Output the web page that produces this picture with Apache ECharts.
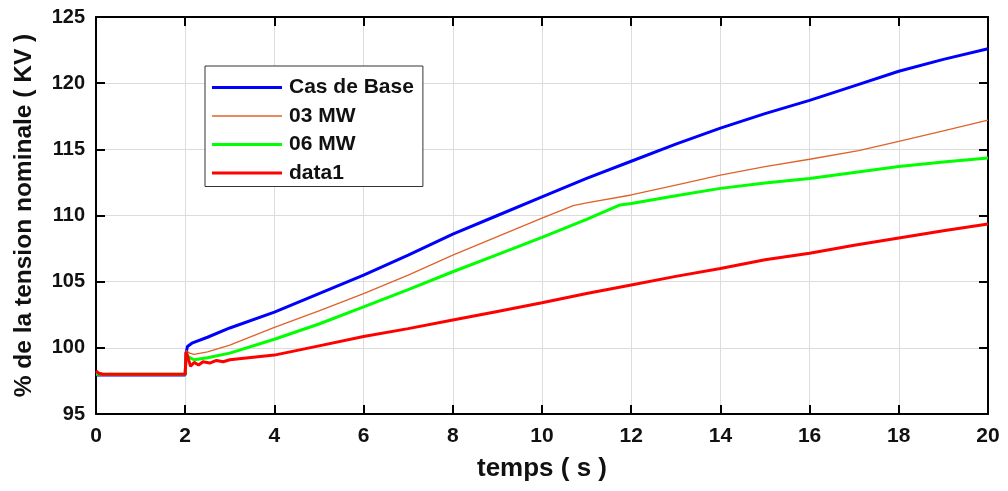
<!DOCTYPE html>
<html>
<head>
<meta charset="utf-8">
<script src="https://cdn.jsdelivr.net/npm/echarts@6/dist/echarts.min.js"></script>
<style>html,body{margin:0;padding:0;background:#fff}#c{width:1008px;height:491px}</style>
</head>
<body>
<div id="c"></div>
<script>
// ---- data ----
var seriesNames = ['Cas de Base', '03 MW', '06 MW', 'data1'];
var xTicks = [0, 2, 4, 6, 8, 10, 12, 14, 16, 18, 20];
var yTicks = [95, 100, 105, 110, 115, 120, 125];

var tBase = [0, 2, 2.02, 2.05, 2.15, 2.5, 3, 4, 5, 6, 7, 8, 9, 10, 11, 12, 13, 14, 15, 16, 17, 18, 19, 20];
var vBase = [97.95, 97.95, 99.6, 100.1, 100.35, 100.8, 101.5, 102.7, 104.1, 105.5, 107.0, 108.6, 110.0, 111.4, 112.8, 114.1, 115.4, 116.6, 117.7, 118.7, 119.8, 120.9, 121.8, 122.6];

var t03 = [0, 2, 2.02, 2.1, 2.2, 2.5, 3, 4, 5, 6, 7, 8, 9, 10, 10.7, 11, 12, 13, 14, 15, 16, 17.1, 18, 19, 20];
var v03 = [98.0, 98.0, 99.8, 99.6, 99.5, 99.7, 100.2, 101.55, 102.8, 104.1, 105.5, 107.0, 108.4, 109.8, 110.75, 110.95, 111.55, 112.3, 113.05, 113.7, 114.25, 114.9, 115.6, 116.4, 117.2];

var t06 = [0, 2, 2.02, 2.08, 2.2, 2.5, 3, 4, 5, 6, 7, 8, 9, 10, 11, 11.75, 12, 13, 14, 15, 16, 17, 18, 19, 20];
var v06 = [98.0, 98.0, 99.6, 99.3, 99.1, 99.25, 99.6, 100.65, 101.8, 103.1, 104.4, 105.75, 107.05, 108.35, 109.7, 110.8, 110.9, 111.5, 112.05, 112.45, 112.8, 113.25, 113.7, 114.05, 114.35];

var tData1 = [0, 0.05, 0.15, 2, 2.02, 2.06, 2.12, 2.2, 2.3, 2.4, 2.55, 2.7, 2.85, 3, 4, 5, 6, 7, 8, 9, 10, 11, 12, 13, 14, 15, 16, 17, 18, 19, 20];
var vData1 = [98.25, 98.1, 98.0, 98.0, 99.7, 99.3, 98.6, 98.9, 98.7, 98.95, 98.85, 99.05, 98.95, 99.1, 99.45, 100.15, 100.85, 101.45, 102.1, 102.75, 103.4, 104.1, 104.75, 105.4, 106.0, 106.65, 107.15, 107.75, 108.3, 108.85, 109.35];

var colors = ['#0000ff', '#e0622a', '#00ff00', '#ff0000'];
var widths = [3, 1.3, 3, 3];

function pairs(t, v) { return t.map(function (x, i) { return [x, v[i]]; }); }
var allData = [pairs(tBase, vBase), pairs(t03, v03), pairs(t06, v06), pairs(tData1, vData1)];

var chart = echarts.init(document.getElementById('c'));
var F = '"Liberation Sans", Arial, sans-serif';
var FN = '"Liberation Sans Narrow", "Liberation Sans", Arial, sans-serif';

function legendIcon(w) { return 'path://M0 0H70V' + w + 'H0Z'; }

var option = {
  animation: false,
  backgroundColor: '#fff',
  grid: { left: 96, right: 20, top: 17, bottom: 77, containLabel: false },
  legend: {
    orient: 'vertical',
    left: 205, top: 66,
    data: seriesNames.map(function (n, i) {
      return { name: n, icon: legendIcon(widths[i]), itemStyle: { color: colors[i] } };
    }),
    itemWidth: 70, itemHeight: 14, itemGap: 7.5,
    symbolKeepAspect: true,
    padding: [11, 9, 3, 7],
    backgroundColor: '#fff',
    borderColor: '#333', borderWidth: 1, borderRadius: 0,
    textStyle: { fontFamily: F, fontWeight: 'bold', fontSize: 21, color: '#111', padding: [0, 0, 0, 2] }
  },
  xAxis: [{
    type: 'value', min: 0, max: 20, interval: 2,
    axisLine: { show: true, onZero: false, lineStyle: { color: '#000', width: 2 } },
    axisTick: { show: true, inside: true, length: 9, lineStyle: { color: '#000', width: 2 } },
    axisLabel: { fontFamily: FN, fontWeight: 'bold', fontSize: 21, color: '#111', margin: 12 },
    splitLine: { show: true, lineStyle: { color: '#dcdcdc', width: 1 } },
    name: 'temps ( s )', nameLocation: 'middle', nameGap: 42,
    nameTextStyle: { fontFamily: F, fontWeight: 'bold', fontSize: 26, color: '#111' }
  }, {
    type: 'value', min: 0, max: 20, interval: 2, position: 'top',
    axisLine: { show: true, onZero: false, lineStyle: { color: '#000', width: 2 } },
    axisTick: { show: true, inside: true, length: 9, lineStyle: { color: '#000', width: 2 } },
    axisLabel: { show: false }, splitLine: { show: false }
  }],
  yAxis: [{
    type: 'value', min: 95, max: 125, interval: 5,
    axisLine: { show: true, onZero: false, lineStyle: { color: '#000', width: 2 } },
    axisTick: { show: true, inside: true, length: 9, lineStyle: { color: '#000', width: 2 } },
    axisLabel: { fontFamily: F, fontWeight: 'bold', fontSize: 20, color: '#111', margin: 11 },
    splitLine: { show: true, lineStyle: { color: '#dcdcdc', width: 1 } },
    name: '% de la tension nominale ( KV )', nameLocation: 'middle', nameGap: 59, nameRotate: 90,
    nameTextStyle: { fontFamily: F, fontWeight: 'bold', fontSize: 24.5, color: '#111' }
  }, {
    type: 'value', min: 95, max: 125, interval: 5, position: 'right',
    axisLine: { show: true, onZero: false, lineStyle: { color: '#000', width: 2 } },
    axisTick: { show: true, inside: true, length: 9, lineStyle: { color: '#000', width: 2 } },
    axisLabel: { show: false }, splitLine: { show: false }
  }],
  series: seriesNames.map(function (n, i) {
    return {
      name: n, type: 'line', data: allData[i], symbol: 'none', smooth: false,
      lineStyle: { color: colors[i], width: widths[i] },
      itemStyle: { color: colors[i] },
      z: 2 + i
    };
  })
};
chart.setOption(option);
</script>
</body>
</html>
